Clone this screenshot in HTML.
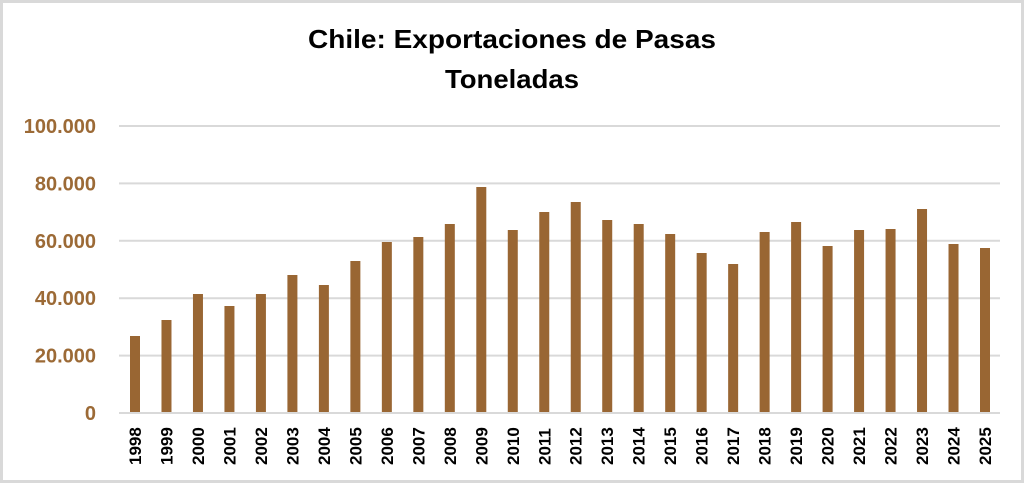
<!DOCTYPE html>
<html><head><meta charset="utf-8"><style>
html,body{margin:0;padding:0;background:#fff}
body{width:1024px;height:483px;overflow:hidden}
</style></head><body>
<svg width="1024" height="483" xmlns="http://www.w3.org/2000/svg" font-family="Liberation Sans, sans-serif">
<rect x="1.5" y="1.5" width="1021" height="480" fill="#fff" stroke="#d9d9d9" stroke-width="3"/>
<text x="512" y="48" text-anchor="middle" font-size="26" font-weight="bold" fill="#000" textLength="408" lengthAdjust="spacingAndGlyphs">Chile: Exportaciones de Pasas</text>
<text x="512" y="88" text-anchor="middle" font-size="26" font-weight="bold" fill="#000" textLength="134" lengthAdjust="spacingAndGlyphs">Toneladas</text>
<g stroke="#d9d9d9" stroke-width="2">
<line x1="119" y1="126" x2="1000" y2="126"/>
<line x1="119" y1="183.4" x2="1000" y2="183.4"/>
<line x1="119" y1="240.8" x2="1000" y2="240.8"/>
<line x1="119" y1="298.2" x2="1000" y2="298.2"/>
<line x1="119" y1="355.6" x2="1000" y2="355.6"/>
<line x1="119" y1="413" x2="1000" y2="413"/>
</g>
<g font-size="20" font-weight="bold" fill="#9c6a36" text-anchor="end">
<text x="96" y="133">100.000</text>
<text x="96" y="190.4">80.000</text>
<text x="96" y="247.8">60.000</text>
<text x="96" y="305.2">40.000</text>
<text x="96" y="362.6">20.000</text>
<text x="96" y="420">0</text>
</g>
<g id="bars" fill="#996633"></g>
<g id="labels" font-size="17" font-weight="bold" fill="#000"></g>
<script>
var tops=[336,320,294,306,294,275,285,261,242,237,224,187,230,212,202,220,224,234,253,264,232,222,246,230,229,209,244,248];
var b=document.getElementById('bars'),l=document.getElementById('labels'),ns='http://www.w3.org/2000/svg';
for(var i=0;i<28;i++){var cx=135+i*850/27;
var r=document.createElementNS(ns,'rect');r.setAttribute('x',cx-5);r.setAttribute('y',tops[i]);r.setAttribute('width',10);r.setAttribute('height',412-tops[i]);b.appendChild(r);
var t=document.createElementNS(ns,'text');t.setAttribute('transform','translate('+(cx+6)+',465) rotate(-90)');t.textContent=1998+i;l.appendChild(t);}
</script>
</svg>
</body></html>
